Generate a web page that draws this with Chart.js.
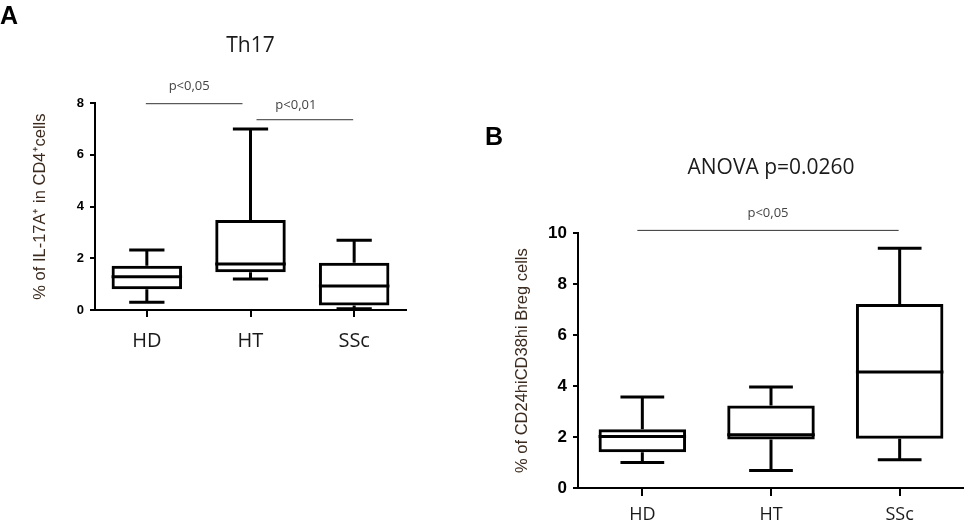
<!DOCTYPE html>
<html>
<head>
<meta charset="utf-8">
<script src="https://cdn.jsdelivr.net/npm/chart.js@4.4.1/dist/chart.umd.min.js"></script>
<style>
  html, body { margin: 0; padding: 0; background: #fff; }
  body { width: 964px; height: 526px; position: relative; overflow: hidden; }
  #chartA { position: absolute; left: 0; top: 0; }
  #chartB { position: absolute; left: 460px; top: 0; }
</style>
</head>
<body>
<canvas id="chartA" width="460" height="350"></canvas>
<canvas id="chartB" width="504" height="526"></canvas>
<script>
// groups on the x axis
const groups = ['HD', 'HT', 'SSc'];

// panel A: Th17, % of IL-17A+ in CD4+ cells
const th17Min = [0.30, 1.20, 0.05];
const th17Q1 = [0.80, 1.46, 0.17];
const th17Median = [1.29, 1.78, 0.93];
const th17Q3 = [1.71, 3.48, 1.83];
const th17Max = [2.32, 7.00, 2.70];
const th17Ticks = [0, 2, 4, 6, 8];

// panel B: CD24hiCD38hi Breg cells
const bregMin = [1.00, 0.69, 1.11];
const bregQ1 = [1.40, 1.90, 1.93];
const bregMedian = [2.02, 2.09, 4.55];
const bregQ3 = [2.31, 3.24, 7.22];
const bregMax = [3.57, 3.96, 9.41];
const bregTicks = [0, 2, 4, 6, 8, 10];

// significance brackets: [from group, to group, level, label]
const th17Brackets = [[0, 1, 8.0, 'p<0,05'], [1, 2, 7.38, 'p<0,01']];
const bregBrackets = [[0, 2, 10.13, 'p<0,05']];

const labelColor = '#3b2a1e';

// whiskers, caps and median line on top of the floating bars
const boxWhiskers = {
    id: 'boxWhiskers',
    afterDatasetsDraw(chart) {
        const ds = chart.data.datasets[0];
        const s = ds.stats;
        const y = chart.scales.y;
        const ctx = chart.ctx;
        ctx.save();
        ctx.strokeStyle = '#000';
        ctx.lineWidth = 3;
        chart.getDatasetMeta(0).data.forEach((bar, i) => {
            const cx = bar.x;
            const half = bar.width / 2;
            const cap = half * 0.5;
            const yMin = y.getPixelForValue(s.min[i]);
            const yQ1 = y.getPixelForValue(s.q1[i]);
            const yMed = y.getPixelForValue(s.median[i]);
            const yQ3 = y.getPixelForValue(s.q3[i]);
            const yMax = y.getPixelForValue(s.max[i]);
            ctx.beginPath();
            ctx.moveTo(cx, yQ3); ctx.lineTo(cx, yMax);
            ctx.moveTo(cx - cap, yMax); ctx.lineTo(cx + cap, yMax);
            ctx.moveTo(cx, yQ1); ctx.lineTo(cx, yMin);
            ctx.moveTo(cx - cap, yMin); ctx.lineTo(cx + cap, yMin);
            ctx.moveTo(cx - half, yMed); ctx.lineTo(cx + half, yMed);
            ctx.stroke();
        });
        ctx.restore();
    }
};

// panel letter and p-value brackets
function makeAnnotations(letter, lx, ly, brackets, offsets) {
    return {
        id: 'annotations',
        afterDraw(chart) {
            const ctx = chart.ctx;
            const x = chart.scales.x, y = chart.scales.y;
            ctx.save();
            ctx.fillStyle = '#000';
            ctx.font = 'bold 25px "Liberation Sans", Arial, sans-serif';
            ctx.textAlign = 'left';
            ctx.textBaseline = 'top';
            ctx.fillText(letter, lx, ly);

            brackets.forEach((b, k) => {
                const o = offsets[k];
                const x1 = x.getPixelForValue(b[0]) + o[0];
                const x2 = x.getPixelForValue(b[1]) + o[1];
                const yy = y.getPixelForValue(b[2]);
                ctx.strokeStyle = '#333';
                ctx.lineWidth = 1;
                ctx.beginPath();
                ctx.moveTo(x1, yy + 0.5);
                ctx.lineTo(x2, yy + 0.5);
                ctx.stroke();
                ctx.fillStyle = '#444';
                ctx.font = '13px "Open Sans", sans-serif';
                ctx.textAlign = 'center';
                ctx.textBaseline = 'middle';
                ctx.fillText(b[3], (x1 + x2) / 2 + o[2], yy - o[3]);
            });
            ctx.restore();
        }
    };
}

function makeConfig(p) {
    return {
        type: 'bar',
        data: {
            labels: groups,
            datasets: [{
                data: p.q1.map((v, i) => [v, p.q3[i]]),
                stats: p,
                backgroundColor: 'rgba(255,255,255,0)',
                borderColor: '#000',
                borderWidth: 3,
                borderSkipped: false,
                barPercentage: 0.68,
                categoryPercentage: 1.0
            }]
        },
        options: {
            responsive: false,
            animation: false,
            layout: { padding: { left: 0, right: p.padRight, top: 0, bottom: 0 } },
            plugins: {
                legend: { display: false },
                tooltip: { enabled: false },
                title: {
                    display: true,
                    text: p.title,
                    fullSize: false,
                    color: '#1a1a1a',
                    font: { family: 'Open Sans', size: 21, weight: 'normal' },
                    padding: { top: p.titleTop, bottom: p.titleBottom }
                }
            },
            scales: {
                x: {
                    type: 'category',
                    offset: true,
                    afterFit: (scale) => { scale.height = p.xHeight; },
                    grid: {
                        display: true, offset: false, drawOnChartArea: false,
                        drawTicks: true, tickLength: p.xTick, color: '#000', lineWidth: 2
                    },
                    border: { display: true, color: '#000', width: 2 },
                    ticks: {
                        color: '#1a1a1a',
                        padding: p.xPad,
                        font: { family: 'Open Sans', size: p.xFont }
                    }
                },
                y: {
                    min: 0,
                    max: p.ticks[p.ticks.length - 1],
                    afterFit: (scale) => { scale.width = p.yWidth; },
                    afterBuildTicks: (scale) => { scale.ticks = p.ticks.map(v => ({ value: v })); },
                    grid: {
                        display: true, drawOnChartArea: false,
                        drawTicks: true, tickLength: 5, color: '#000', lineWidth: 2
                    },
                    border: { display: true, color: '#000', width: 2 },
                    ticks: {
                        color: '#000',
                        padding: 6,
                        font: { family: 'Liberation Sans', size: p.yFont, weight: 'bold' }
                    },
                    title: {
                        display: true,
                        text: p.yTitle,
                        color: labelColor,
                        font: { family: 'Liberation Sans', size: 16.5 },
                        padding: { top: p.yTitlePad, bottom: 0 }
                    }
                }
            }
        },
        plugins: [boxWhiskers, p.annotations]
    };
}

new Chart(document.getElementById('chartA'), makeConfig({
    min: th17Min, q1: th17Q1, median: th17Median, q3: th17Q3, max: th17Max,
    ticks: th17Ticks,
    title: 'Th17',
    yTitle: '% of IL-17A\u207A in CD4\u207Acells',
    padRight: 54, titleTop: 33, titleBottom: 45,
    xHeight: 40, xTick: 7, xPad: 12, xFont: 20,
    yWidth: 95, yFont: 13, yTitlePad: 31,
    annotations: makeAnnotations('A', 0, 5, th17Brackets, [[-1, -8, -5, 17], [6, -1, -9, 14]])
}));

new Chart(document.getElementById('chartB'), makeConfig({
    min: bregMin, q1: bregQ1, median: bregMedian, q3: bregQ3, max: bregMax,
    ticks: bregTicks,
    title: 'ANOVA p=0.0260',
    yTitle: '% of CD24hiCD38hi Breg cells',
    padRight: 0, titleTop: 155, titleBottom: 53,
    xHeight: 38, xTick: 8, xPad: 8, xFont: 18,
    yWidth: 118, yFont: 17, yTitlePad: 53,
    annotations: makeAnnotations('B', 25, 126, bregBrackets, [[-5, -1, 0, 17]])
}));
</script>
</body>
</html>
